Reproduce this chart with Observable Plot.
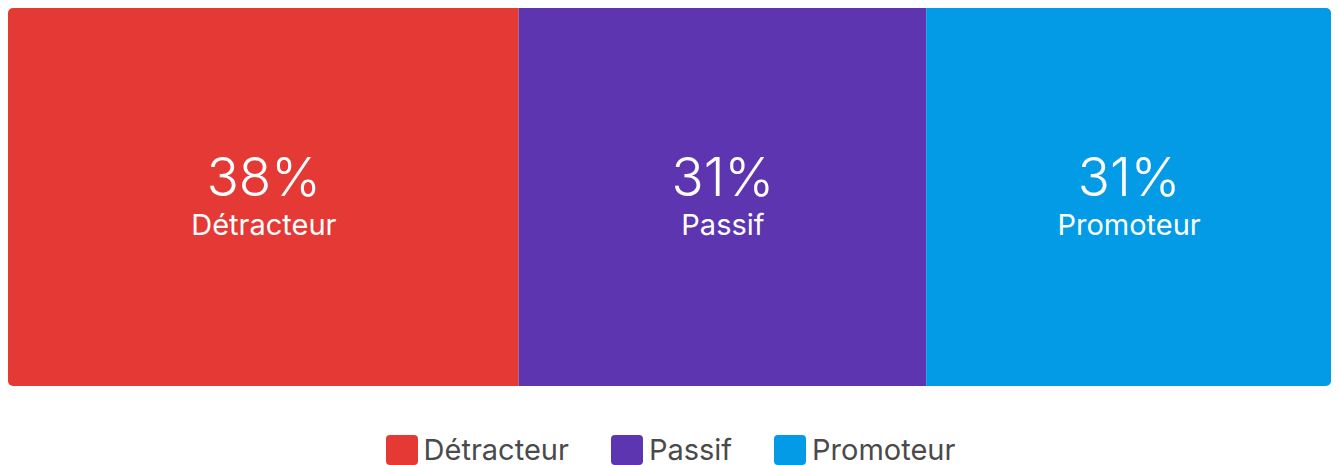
<!DOCTYPE html>
<html>
<head>
<meta charset="utf-8">
<script src="https://cdn.jsdelivr.net/npm/d3@7"></script>
<script src="https://cdn.jsdelivr.net/npm/@observablehq/plot@0.6"></script>
<style>
  html, body { margin: 0; padding: 0; background: #fff; }
  body { width: 1339px; height: 465px; overflow: hidden; font-family: Inter, sans-serif; }
  #chart svg { display: block; clip-path: inset(8px 8px 8px 8px round 5px); }
  #legend { display: flex; justify-content: center; align-items: center; margin-top: 41px; margin-left: 2px; }
  .item { display: flex; align-items: center; margin: 0 21px; }
  .sw { width: 32px; height: 30px; border-radius: 4px; margin-right: 6px; }
  .lab { font-size: 29px; color: #4a4a4a; line-height: 30px; }
</style>
</head>
<body>
<div id="chart"></div>
<div id="legend"></div>
<script>
const categories = ["Détracteur", "Passif", "Promoteur"];
const shares = [38.6, 30.8, 30.6];
const percentLabels = ["38%", "31%", "31%"];
const colors = ["#E53935", "#5E35B1", "#039BE5"];

const data = categories.map((c, i) => ({category: c, share: shares[i], pct: percentLabels[i]}));

const plot = Plot.plot({
  width: 1339,
  height: 394,
  marginLeft: 8,
  marginRight: 8,
  marginTop: 8,
  marginBottom: 8,
  x: {axis: null, domain: [0, d3.sum(shares)]},
  color: {domain: categories, range: colors},
  style: {fontFamily: "Inter, sans-serif"},
  marks: [
    Plot.barX(data, Plot.stackX({x: "share", fill: "category", order: null})),
    Plot.text(data, Plot.stackX({x: "share", z: "category", order: null, text: "pct", fill: "white", fontSize: 53, fontWeight: 300, lineAnchor: "middle", dy: -18})),
    Plot.text(data, Plot.stackX({x: "share", z: "category", order: null, text: "category", fill: "white", fontSize: 29, fontWeight: 400, lineAnchor: "middle", dy: 28}))
  ]
});
document.getElementById("chart").appendChild(plot);

const legend = document.getElementById("legend");
categories.forEach((c, i) => {
  const item = document.createElement("div");
  item.className = "item";
  const sw = document.createElement("div");
  sw.className = "sw";
  sw.style.background = colors[i];
  const lab = document.createElement("span");
  lab.className = "lab";
  lab.textContent = c;
  item.appendChild(sw);
  item.appendChild(lab);
  legend.appendChild(item);
});
</script>
</body>
</html>
